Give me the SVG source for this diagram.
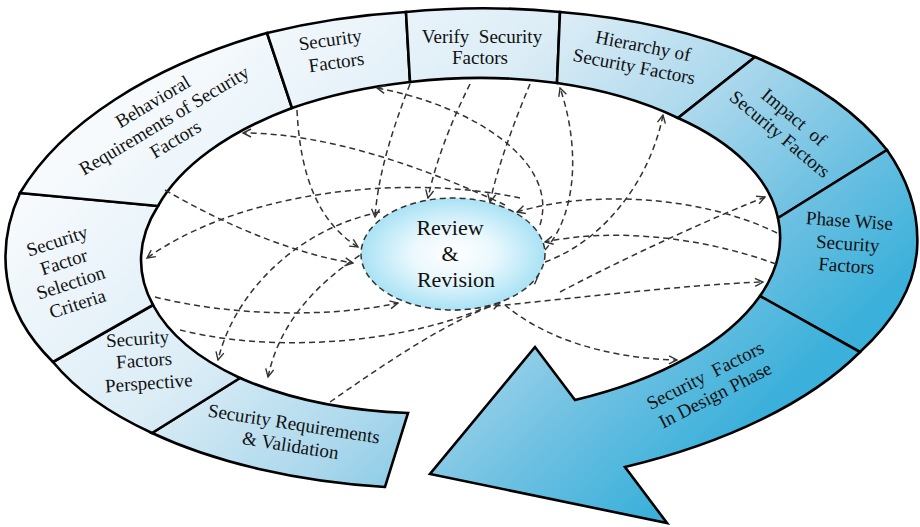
<svg xmlns="http://www.w3.org/2000/svg" width="920" height="527" viewBox="0 0 920 527">
<defs>
<linearGradient id="band" gradientUnits="userSpaceOnUse" x1="200" y1="40" x2="650" y2="520">
<stop offset="0" stop-color="#f6fafd"/>
<stop offset="0.35" stop-color="#dcedf6"/>
<stop offset="0.6" stop-color="#a9d7ec"/>
<stop offset="0.8" stop-color="#6fc1e2"/>
<stop offset="1" stop-color="#3ab0da"/>
</linearGradient>
<radialGradient id="hub" cx="0.5" cy="0.5" r="0.5">
<stop offset="0" stop-color="#ffffff"/>
<stop offset="0.45" stop-color="#eaf8fd"/>
<stop offset="1" stop-color="#a9e2f5"/>
</radialGradient>
<marker id="ah" viewBox="0 0 10 10" refX="9" refY="5" markerWidth="10" markerHeight="10" markerUnits="userSpaceOnUse" orient="auto">
<path d="M1,1 L9,5 L1,9" fill="none" stroke="#333" stroke-width="1.4"/>
</marker>
</defs>
<style>
.seg{fill:url(#band);stroke:#000;stroke-width:2.6;stroke-linejoin:miter}
.lbl{font-family:"Liberation Serif","Times New Roman",serif;font-size:19px;fill:#111;text-anchor:middle;white-space:pre}
.hubt{font-family:"Liberation Serif","Times New Roman",serif;font-size:22px;fill:#111;text-anchor:middle}
.dash{fill:none;stroke:#333;stroke-width:1.5;stroke-dasharray:6 4;marker-end:url(#ah)}
</style>
<g id="node-requirements-validation">
<path class="seg" d="M385,487 A455 222 -3 0 1 152,433 L240,378 A318 166 -3 0 0 408,413 Z"/>
<text class="lbl" transform="translate(293,430) rotate(9)"><tspan x="0" y="0">Security Requirements</tspan><tspan x="0" y="22">&amp; Validation</tspan></text>
</g>
<g id="node-factors-perspective">
<path class="seg" d="M152,433 A455 222 -3 0 1 53,362 L153,305 A318 166 -3 0 0 240,378 Z"/>
<text class="lbl" transform="translate(138,345) rotate(-4)"><tspan x="0" y="0">Security</tspan><tspan x="5" y="22">Factors</tspan><tspan x="8" y="45">Perspective</tspan></text>
</g>
<g id="node-selection-criteria">
<path class="seg" d="M53,362 A455 230 -3 0 1 7,278 A455 254 -3 0 1 20,193 L158,206 A318 166 -3 0 0 153,305 Z"/>
<text class="lbl" transform="translate(59,247) rotate(-18)"><tspan x="0" y="0">Security</tspan><tspan x="0" y="22">Factor</tspan><tspan x="0" y="44">Selection</tspan><tspan x="0" y="66">Criteria</tspan></text>
</g>
<g id="node-behavioral-requirements">
<path class="seg" d="M20,193 A455 254 -3 0 1 267,33 L292,108 A318 166 -3 0 0 158,206 Z"/>
<text class="lbl" transform="translate(156,107) rotate(-31)"><tspan x="0" y="0">Behavioral</tspan><tspan x="0" y="22">Requirements of Security</tspan><tspan x="0" y="44">Factors</tspan></text>
</g>
<g id="node-security-factors">
<path class="seg" d="M267,33 A455 254 -3 0 1 406,12 L410,82 A318 166 -3 0 0 292,108 Z"/>
<text class="lbl" transform="translate(331,46) rotate(-8)"><tspan x="0" y="0">Security</tspan><tspan x="3" y="23">Factors</tspan></text>
</g>
<g id="node-verify-security-factors">
<path class="seg" d="M406,12 A455 254 -3 0 1 560,12 L557,83 A318 166 -3 0 0 410,82 Z"/>
<text class="lbl"><tspan x="482" y="43">Verify  Security</tspan><tspan x="480" y="64">Factors</tspan></text>
</g>
<g id="node-hierarchy">
<path class="seg" d="M560,12 A455 254 -3 0 1 755,57 L678,118 A318 166 -3 0 0 557,83 Z"/>
<text class="lbl" transform="translate(642,52) rotate(11)"><tspan x="0" y="0">Hierarchy of</tspan><tspan x="-5" y="22">Security Factors</tspan></text>
</g>
<g id="node-impact">
<path class="seg" d="M755,57 A455 254 -3 0 1 887,150 L778,218 A318 166 -3 0 0 678,118 Z"/>
<text class="lbl" transform="translate(790,122) rotate(40)"><tspan x="0" y="0">Impact  of</tspan><tspan x="0" y="22">Security Factors</tspan></text>
</g>
<g id="node-phase-wise">
<path class="seg" d="M887,150 A455 254 -3 0 1 917,250 A455 222 -3 0 1 860,352 L760,296 A318 166 -3 0 0 778,218 Z"/>
<text class="lbl" transform="translate(849,227) rotate(4)"><tspan x="0" y="0">Phase Wise</tspan><tspan x="0" y="23">Security</tspan><tspan x="0" y="45">Factors</tspan></text>
</g>
<g id="node-design-phase">
<path class="seg" d="M860,352 A455 222 -3 0 1 625,467 L667,523 L430,474 L535,347 L575,400 A318 166 -3 0 0 760,296 Z"/>
<text class="lbl" transform="translate(708,381) rotate(-27)"><tspan x="0" y="0">Security  Factors</tspan><tspan x="0" y="22">In Design Phase</tspan></text>
</g>
<g id="connectors">
<path class="dash" d="M297,110 C300,175 318,222 358,247"/>
<path class="dash" d="M410,84 C392,130 378,175 375,217"/>
<path class="dash" d="M165,190 C230,228 300,255 353,263"/>
<path class="dash" d="M155,297 C230,316 330,318 398,303"/>
<path class="dash" d="M470,84 C452,120 436,160 428,198"/>
<path class="dash" d="M530,84 C515,120 498,165 490,202"/>
<path class="dash" d="M777,233 C700,195 590,190 517,212"/>
<path class="dash" d="M776,264 C700,236 610,228 545,242"/>
<path class="dash" d="M330,402 C390,360 450,320 500,303"/>
<path class="dash" d="M180,330 C300,360 470,335 538,276"/>
<path class="dash" d="M505,205 C430,170 330,133 243,133"/>
<path class="dash" d="M520,198 C420,176 250,185 147,258"/>
<path class="dash" d="M540,225 C560,160 470,105 377,88"/>
<path class="dash" d="M380,212 C300,228 235,290 218,360"/>
<path class="dash" d="M368,250 C320,280 280,320 268,377"/>
<path class="dash" d="M505,305 C540,335 600,358 677,360"/>
<path class="dash" d="M455,310 C560,300 680,285 763,282"/>
<path class="dash" d="M560,292 C640,250 720,215 765,197"/>
<path class="dash" d="M545,262 C605,240 650,180 663,115"/>
<path class="dash" d="M545,250 C580,210 578,140 560,88"/>
</g>
<g id="node-review-revision">
<ellipse cx="453" cy="254" rx="92" ry="56" fill="url(#hub)" stroke="#333" stroke-width="1.5" stroke-dasharray="6 4"/>
<text class="hubt"><tspan x="450" y="235">Review</tspan><tspan x="450" y="261">&amp;</tspan><tspan x="456" y="287">Revision</tspan></text>
</g>
</svg>
